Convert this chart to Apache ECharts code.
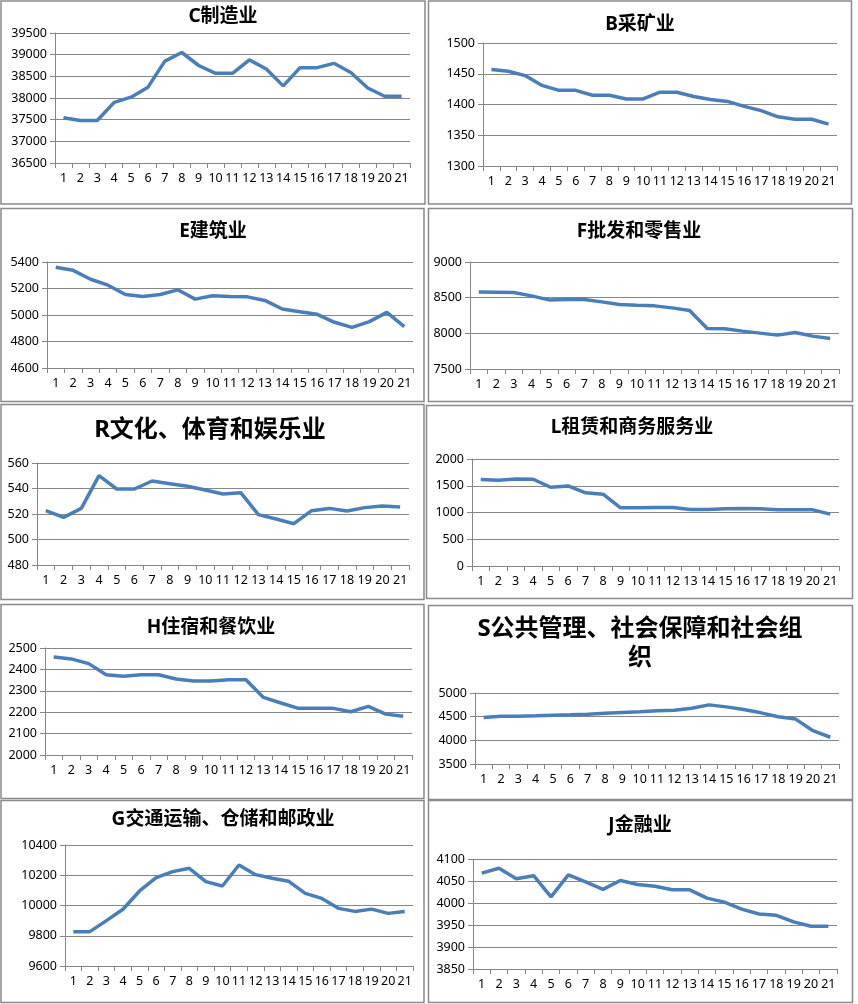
<!DOCTYPE html>
<html>
<head>
<meta charset="utf-8">
<script src="https://cdn.jsdelivr.net/npm/echarts@6/dist/echarts.min.js"></script>
<style>
html,body{margin:0;padding:0;background:#fff;}
#c{width:858px;height:1004px;}
</style>
</head>
<body>
<div id="c"></div>
<script>
// ---- data ----
const categories = ['1','2','3','4','5','6','7','8','9','10','11','12','13','14','15','16','17','18','19','20','21'];

const titles = ['C制造业','B采矿业','E建筑业','F批发和零售业','R文化、体育和娱乐业','L租赁和商务服务业','H住宿和餐饮业','S公共管理、社会保障和社会组\n织','G交通运输、仓储和邮政业','J金融业'];

const C_manufacturing = [37545,37480,37480,37900,38020,38250,38850,39050,38750,38570,38570,38880,38670,38280,38700,38700,38800,38590,38230,38040,38040];
const B_mining = [1457,1454,1447,1431,1423,1423,1415,1415,1409,1409,1420,1420,1413,1408,1405,1397,1390,1380,1376,1376,1368];
const E_construction = [5360,5337,5270,5225,5155,5140,5155,5190,5120,5145,5140,5137,5110,5045,5025,5005,4945,4907,4950,5020,4912];
const F_wholesale = [8580,8576,8572,8525,8469,8473,8473,8441,8404,8394,8385,8357,8320,8068,8064,8031,8003,7975,8012,7961,7928];
const R_culture = [522.6,517.4,524.4,550.1,539.6,539.6,545.9,543.8,541.7,538.8,535.7,536.7,519.5,516.1,512.4,522.6,524.4,522.4,525.0,526.3,525.5];
const L_leasing = [1615,1603,1627,1621,1472,1497,1367,1342,1087,1087,1093,1093,1056,1056,1068,1075,1068,1050,1050,1050,969];
const H_hotel = [2458,2449,2427,2375,2368,2375,2375,2355,2346,2346,2352,2352,2269,2243,2218,2218,2218,2202,2227,2191,2181];
const S_public = [4483,4511,4511,4518,4532,4539,4553,4574,4588,4602,4623,4637,4679,4749,4707,4651,4581,4497,4449,4204,4065];
const G_transport = [9827,9827,9900,9975,10096,10184,10224,10246,10158,10129,10268,10204,10180,10160,10080,10047,9981,9961,9976,9948,9961];
const J_finance = [4068,4079,4055,4062,4014,4064,4048,4031,4051,4042,4038,4030,4030,4011,4002,3986,3975,3972,3957,3947,3947];

const yMin = [36500,1300,4600,7500,480,0,2000,3500,9600,3850];
const yMax = [39500,1500,5400,9000,560,2000,2500,5000,10400,4100];
const yStep = [500,50,200,500,20,500,100,500,200,50];

const seriesData = [C_manufacturing,B_mining,E_construction,F_wholesale,R_culture,L_leasing,H_hotel,S_public,G_transport,J_finance];

// ---- layout ----
const grids = [
  {left:55, top:33, width:355, height:130},
  {left:483, top:43, width:354, height:123},
  {left:47, top:262, width:366, height:106},
  {left:470, top:262, width:369, height:107},
  {left:37, top:463, width:372, height:102},
  {left:472, top:459, width:367, height:107},
  {left:45, top:648, width:367, height:107},
  {left:475, top:693, width:364, height:71},
  {left:65, top:845, width:348, height:121},
  {left:473, top:859, width:364, height:110}
];
const titlePos = [
  {x:223, y:5, fs:19},
  {x:640, y:13, fs:19},
  {x:213, y:220, fs:19},
  {x:639, y:220, fs:19},
  {x:210, y:416, fs:24},
  {x:632, y:416, fs:19},
  {x:211, y:616, fs:19},
  {x:640, y:615, fs:24},
  {x:223, y:808, fs:19},
  {x:640, y:814, fs:19}
];
const boxes = [
  [1,1,424,203],[428.5,1,423,203],
  [1,208.5,423,193],[428.5,208.5,424,193],
  [1,404.5,423,195],[426.5,405.5,426,193],
  [1,604.5,423,194],[428.5,605.5,424,194],
  [1,800.5,423,202],[428.5,800.5,424,202]
];

const GRID_C = '#868686';
const LINE_C = '#4a7ebb';
const FONT = '"Noto Sans","Noto Sans CJK SC",sans-serif';

const option = {
  backgroundColor:'#fff',
  animation:false,
  title: titles.map((t,i)=>({
    text:t, left:titlePos[i].x, top:titlePos[i].y, textAlign:'center', padding:0,
    textStyle:{fontFamily:FONT, fontSize:titlePos[i].fs, fontWeight:'bold', color:'#000', lineHeight:titlePos[i].fs+5}
  })),
  graphic: boxes.map(b=>({
    type:'rect', shape:{x:b[0], y:b[1], width:b[2], height:b[3]},
    style:{fill:null, stroke:'#8a8a8a', lineWidth:1.5}, silent:true, z:-1
  })),
  grid: grids.map(g=>Object.assign({containLabel:false}, g)),
  xAxis: grids.map((g,i)=>({
    type:'category', gridIndex:i, data:categories, boundaryGap:true,
    axisLine:{show:true, lineStyle:{color:GRID_C, width:1}},
    axisTick:{show:true, length:5, lineStyle:{color:GRID_C}},
    axisLabel:{interval:0, fontFamily:FONT, fontSize:12.5, color:'#000', margin:9},
    splitLine:{show:false}
  })),
  yAxis: grids.map((g,i)=>({
    type:'value', gridIndex:i, min:yMin[i], max:yMax[i], interval:yStep[i],
    axisLine:{show:true, lineStyle:{color:GRID_C, width:1}},
    axisTick:{show:true, length:5, lineStyle:{color:GRID_C}},
    axisLabel:{fontFamily:FONT, fontSize:12.5, color:'#000', margin:8, formatter:v=>String(v)},
    splitLine:{show:true, lineStyle:{color:GRID_C, width:1}}
  })),
  series: seriesData.map((d,i)=>({
    type:'line', xAxisIndex:i, yAxisIndex:i, data:d, symbol:'none',
    lineStyle:{color:LINE_C, width:3.5}, itemStyle:{color:LINE_C}
  }))
};

const chart = echarts.init(document.getElementById('c'), null, {renderer:'canvas'});
chart.setOption(option);
</script>
</body>
</html>
